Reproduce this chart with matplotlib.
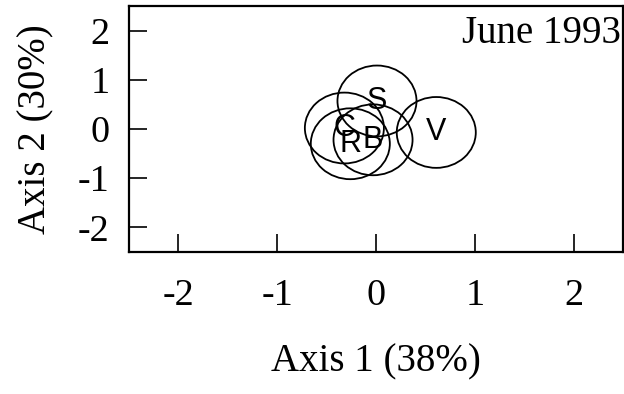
import matplotlib
matplotlib.use("Agg")
import matplotlib.pyplot as plt
from matplotlib.patches import Ellipse

# Data
labels = ["S", "V", "C", "R", "B"]
axis1 = [0.01, 0.61, -0.32, -0.26, -0.03]
axis2 = [0.57, -0.07, 0.02, -0.30, -0.22]
rad_x = 0.40
rad_y = 0.72
xticks = [-2, -1, 0, 1, 2]
yticks = [-2, -1, 0, 1, 2]
xlabel = "Axis 1 (38%)"
ylabel = "Axis 2 (30%)"
title = "June 1993"

W, H = 624, 394
fig = plt.figure(figsize=(W / 100, H / 100), dpi=100)
ax = fig.add_axes([129 / W, 1 - 252 / H, (623 - 129) / W, (252 - 6) / H])

serif = "Liberation Serif"
sans = "Liberation Sans"

for lab, x, y in zip(labels, axis1, axis2):
    ax.add_patch(Ellipse((x, y), 2 * rad_x, 2 * rad_y, fill=False,
                         edgecolor="black", linewidth=1.3))
    ax.text(x, y, lab, ha="center", va="center", fontsize=22,
            family=sans, color="black")

ax.set_xlim(-2.5, 2.5)
ax.set_ylim(-2.5, 2.5)
ax.set_xticks(xticks)
ax.set_yticks(yticks)
ax.set_xticklabels([str(t) for t in xticks], family=serif, fontsize=27.5)
ax.set_yticklabels([str(t) for t in yticks], family=serif, fontsize=27.5)
ax.tick_params(axis="x", direction="in", length=13, width=1.2, pad=19)
ax.tick_params(axis="y", direction="in", length=13, width=1.2, pad=14)
for s in ax.spines.values():
    s.set_linewidth(1.6)

ax.set_xlabel(xlabel, family=serif, fontsize=28, labelpad=22)
ax.set_ylabel(ylabel, family=serif, fontsize=28, labelpad=17)
ax.text(0.995, 0.965, title, transform=ax.transAxes, ha="right", va="top",
        family=serif, fontsize=28)

fig.savefig("out.png", dpi=100)
